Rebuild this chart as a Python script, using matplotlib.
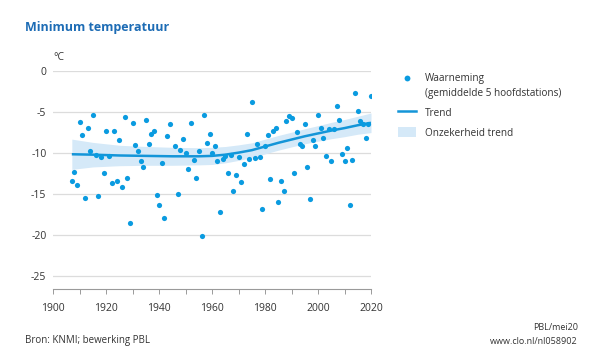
import matplotlib
matplotlib.use("Agg")
import matplotlib.pyplot as plt
from matplotlib.lines import Line2D
from matplotlib.patches import Patch

plt.rcParams['font.family'] = ['Open Sans', 'DejaVu Sans']

# Observations (annual minimum temperature, mean of 5 main stations)
years = [1907, 1908, 1909, 1910, 1911, 1912, 1913, 1914, 1915, 1916,
         1917, 1918, 1919, 1920, 1921, 1922, 1923, 1924, 1925, 1926,
         1927, 1928, 1929, 1930, 1931, 1932, 1933, 1934, 1935, 1936,
         1937, 1938, 1939, 1940, 1941, 1942, 1943, 1944, 1946, 1947,
         1948, 1949, 1950, 1951, 1952, 1953, 1954, 1955, 1956, 1957,
         1958, 1959, 1960, 1961, 1962, 1963, 1964, 1965, 1966, 1967,
         1968, 1969, 1970, 1971, 1972, 1973, 1974, 1975, 1976, 1977,
         1978, 1979, 1980, 1981, 1982, 1983, 1984, 1985, 1986, 1987,
         1988, 1989, 1990, 1991, 1992, 1993, 1994, 1995, 1996, 1997,
         1998, 1999, 2000, 2001, 2002, 2003, 2004, 2005, 2006, 2007,
         2008, 2009, 2010, 2011, 2012, 2013, 2014, 2015, 2016, 2017,
         2018, 2019, 2020]
tmin = [-13.4, -12.3, -13.9, -6.2, -7.8, -15.5, -6.9, -9.7, -5.4, -10.2,
        -15.2, -10.5, -12.4, -7.3, -10.4, -13.7, -7.3, -13.4, -8.4, -14.1,
        -5.6, -13.1, -18.6, -6.3, -9.0, -9.8, -11.0, -11.75, -6.0, -8.9,
        -7.7, -7.3, -15.1, -16.3, -11.2, -18.0, -7.9, -6.5, -9.1, -15.0,
        -9.6, -8.3, -10.0, -11.9, -6.3, -10.9, -13.1, -9.75, -20.2, -5.35,
        -8.8, -7.7, -9.95, -9.2, -11.0, -17.2, -10.7, -10.4, -12.45, -10.2,
        -14.7, -12.65, -10.5, -13.55, -11.3, -7.7, -10.7, -3.75, -10.6, -8.9,
        -10.45, -16.85, -9.15, -7.85, -13.2, -7.3, -6.9, -16.0, -13.4, -14.7,
        -6.1, -5.5, -5.7, -12.4, -7.4, -8.9, -9.2, -6.5, -11.75, -15.6,
        -8.4, -9.1, -5.4, -6.9, -8.1, -10.35, -7.0, -11.0, -7.0, -4.25,
        -5.9, -10.1, -11.0, -9.4, -16.4, -10.9, -2.6, -4.9, -6.1, -6.4,
        -8.1, -6.5, -3.0]

# Trend and its uncertainty band
trend_years = [1907, 1915, 1925, 1935, 1945, 1955, 1960, 1965, 1970, 1975,
               1980, 1985, 1990, 1995, 2000, 2005, 2010, 2015, 2020]
trend = [-10.15, -10.2, -10.3, -10.35, -10.4, -10.4, -10.35, -10.2, -9.95, -9.65,
         -9.2, -8.75, -8.35, -7.95, -7.6, -7.25, -6.95, -6.6, -6.3]
trend_upper = [-8.3, -8.7, -9.05, -9.2, -9.3, -9.35, -9.3, -9.2, -9.0, -8.75,
               -8.3, -7.85, -7.45, -7.03, -6.65, -6.25, -5.9, -5.5, -5.1]
trend_lower = [-12.0, -11.7, -11.55, -11.5, -11.5, -11.45, -11.4, -11.2, -10.9, -10.55,
               -10.1, -9.65, -9.25, -8.87, -8.55, -8.25, -8.0, -7.7, -7.5]

yticks = [0, -5, -10, -15, -20, -25]
xticks_major = [1900, 1920, 1940, 1960, 1980, 2000, 2020]
xticks_minor = [1910, 1930, 1950, 1970, 1990, 2010]

DOT = '#0a9be0'
LINE = '#1495d8'
BAND = '#d5e9f8'
TXT = '#333333'
TITLE = '#1d6cb5'
GRID = '#dcdcdc'

fig = plt.figure(figsize=(6.02, 3.55), dpi=100)
ax = fig.add_axes([53.3/602, 1-288.7/355, (371-53.3)/602, (288.7-71.3)/355])

ax.fill_between(trend_years, trend_lower, trend_upper, color=BAND, lw=0, zorder=1)
ax.plot(trend_years, trend, color=LINE, lw=1.8, zorder=3, solid_capstyle='butt')
ax.scatter(years, tmin, s=14, color=DOT, lw=0, zorder=4)

ax.set_xlim(1900, 2020)
ax.set_ylim(-26.6, 0)
ax.set_yticks(yticks)
ax.set_yticklabels([str(v) for v in yticks])
ax.set_xticks(xticks_major)
ax.set_xticks(xticks_minor, minor=True)
ax.set_xticklabels([str(v) for v in xticks_major])
ax.grid(axis='y', color=GRID, lw=0.9)
ax.set_axisbelow(True)
for s in ['top', 'right', 'left']:
    ax.spines[s].set_visible(False)
ax.spines['bottom'].set_color('#9a9a9a')
ax.spines['bottom'].set_linewidth(0.8)
ax.tick_params(axis='y', length=0, pad=5, labelsize=7.5, labelcolor=TXT)
ax.tick_params(axis='x', which='both', length=3.3, width=0.7, color='#9a9a9a',
               labelsize=7.5, labelcolor=TXT, pad=7)

fig.text(25/602, 1-27/355, 'Minimum temperatuur', color=TITLE, fontsize=9,
         fontweight='bold', va='center', ha='left')
fig.text(53/602, 1-57/355, '°C', color=TXT, fontsize=7.5, va='center', ha='left')

LFS = 7.2
leg1 = ax.legend([Line2D([], [], marker='o', ls='none', color=DOT, markersize=4.2,
                         markeredgewidth=0),
                  Line2D([], [], ls='none')],
                 ['Waarneming', '(gemiddelde 5 hoofdstations)'],
                 loc='upper left', bbox_to_anchor=(398/602, 1-73.5/355),
                 bbox_transform=fig.transFigure, frameon=False, fontsize=LFS,
                 handlelength=1.8, handletextpad=0.9, labelspacing=0.33,
                 borderpad=0, borderaxespad=0)
for t in leg1.get_texts():
    t.set_color(TXT)
ax.add_artist(leg1)

leg2 = ax.legend([Line2D([], [], color=LINE, lw=1.8), Patch(facecolor=BAND, edgecolor='none')],
                 ['Trend', 'Onzekerheid trend'],
                 loc='upper left', bbox_to_anchor=(398/602, 1-107/355),
                 bbox_transform=fig.transFigure, frameon=False, fontsize=LFS,
                 handlelength=1.8, handleheight=1.2, handletextpad=0.9,
                 labelspacing=0.85, borderpad=0, borderaxespad=0)
for t in leg2.get_texts():
    t.set_color(TXT)

fig.text(25/602, 1-341/355, 'Bron: KNMI; bewerking PBL', color=TXT, fontsize=7,
         va='center', ha='left')
fig.text(578/602, 1-328/355, 'PBL/mei20', color=TXT, fontsize=6.5, va='center', ha='right')
fig.text(578/602, 1-341/355, 'www.clo.nl/nl058902', color=TXT, fontsize=6.5,
         va='center', ha='right')

fig.savefig('out.png', dpi=100)
